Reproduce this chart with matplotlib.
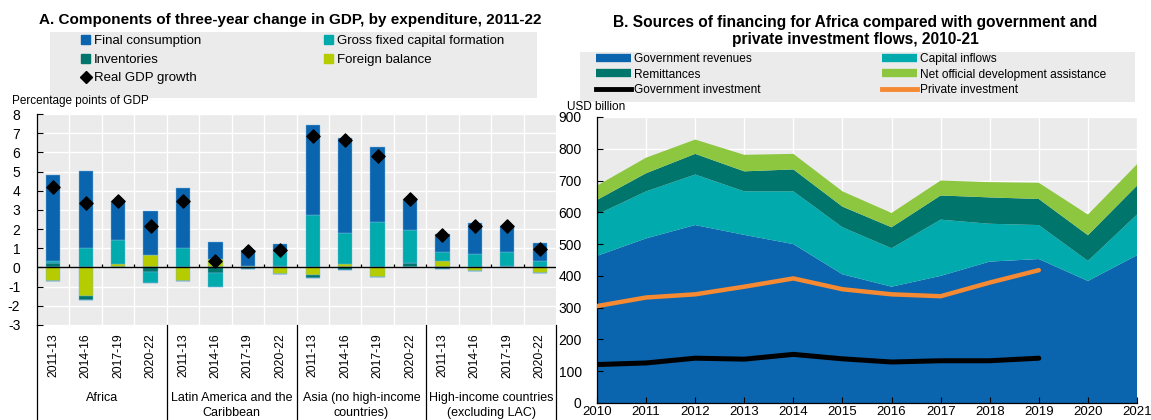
import matplotlib
matplotlib.use("Agg")
import matplotlib.pyplot as plt
import numpy as np
from matplotlib.patches import Rectangle, Patch
from matplotlib.lines import Line2D
import matplotlib.transforms as mtrans

plt.rcParams['font.family'] = ['Liberation Sans', 'DejaVu Sans']

# ---------------- Panel A data ----------------
periods = ["2011-13", "2014-16", "2017-19", "2020-22"]
regions = ["Africa", "Latin America and the\nCaribbean", "Asia (no high-income\ncountries)",
           "High-income countries\n(excluding LAC)"]
final_consumption = [4.45, 4.04, 2.03, 2.29, 3.14, 0.87, 0.79, 0.43,
                     4.67, 4.95, 3.91, 1.60, 0.94, 1.62, 1.37, 0.97]
gfcf = [0.10, 0.99, 1.26, -0.57, 0.99, -0.73, 0.00, 0.71,
        2.76, 1.62, 2.36, 1.74, 0.47, 0.69, 0.70, 0.33]
inventories = [0.25, -0.25, 0.00, -0.24, 0.00, -0.31, -0.10, 0.09,
               -0.16, -0.14, 0.00, 0.22, -0.09, 0.00, 0.10, -0.03]
foreign_balance = [-0.69, -1.47, 0.16, 0.64, -0.69, 0.45, 0.10, -0.35,
                   -0.40, 0.20, -0.49, 0.00, 0.36, -0.17, 0.00, -0.28]
real_gdp_growth = [4.17, 3.35, 3.45, 2.17, 3.47, 0.33, 0.87, 0.90,
                   6.86, 6.65, 5.82, 3.56, 1.70, 2.15, 2.15, 0.97]

# ---------------- Panel B data ----------------
years = list(range(2010, 2022))
gov_revenues = [463, 518, 560, 529, 500, 405, 366, 400, 445, 453, 384, 465]
capital_inflows = [130, 148, 159, 137, 166, 148, 121, 177, 119, 107, 63, 128]
remittances = [46, 57, 65, 63, 69, 65, 66, 76, 83, 82, 81, 91]
net_oda = [45, 49, 45, 52, 49, 48, 45, 47, 48, 51, 65, 67]
inv_years = list(range(2010, 2020))
gov_investment = [121, 126, 141, 138, 153, 139, 129, 133, 133, 141]
private_investment = [305, 332, 342, 366, 392, 358, 342, 336, 379, 418]

# colours
C_BLUE = "#0b64ae"
C_TEAL = "#00aaad"
C_DTEAL = "#00756b"
C_LIME = "#b4cc00"
C_GREEN = "#8dc63f"
C_ORANGE = "#f58a33"
BG = "#ebebeb"

W, H = 1151, 420
fig = plt.figure(figsize=(W / 100, H / 100), dpi=100)

def fx(px):
    return px / W

def fy(py):
    return 1 - py / H

# ================= Panel A =================
axA = fig.add_axes([fx(37), fy(325), fx(556 - 37), fy(114) - fy(325)])
axA.set_facecolor(BG)
n = len(final_consumption)
x = np.arange(n)
bw = 0.44

series = {
    "fc": (final_consumption, C_BLUE),
    "gfcf": (gfcf, C_TEAL),
    "inv": (inventories, C_DTEAL),
    "fb": (foreign_balance, C_LIME),
}
pos_order = ["inv", "fb", "gfcf", "fc"]
neg_order = ["fb", "inv", "gfcf", "fc"]
pos_base = np.zeros(n)
neg_base = np.zeros(n)
for key in pos_order:
    vals, col = series[key]
    v = np.array(vals)
    vp = np.where(v > 0, v, 0)
    axA.bar(x, vp, bw, bottom=pos_base, color=col, edgecolor="#7db7e0", linewidth=0.3, zorder=3)
    pos_base += vp
for key in neg_order:
    vals, col = series[key]
    v = np.array(vals)
    vn = np.where(v < 0, v, 0)
    axA.bar(x, vn, bw, bottom=neg_base, color=col, edgecolor="#7db7e0", linewidth=0.3, zorder=3)
    neg_base += vn
axA.scatter(x, real_gdp_growth, marker="D", s=45, color="black", zorder=5)

axA.set_xlim(-0.5, n - 0.5)
axA.set_ylim(-3, 8)
axA.set_yticks(range(-3, 9))
axA.set_yticklabels([str(v) for v in range(-3, 9)], fontsize=10)
axA.tick_params(axis="y", direction="in", length=4, pad=12, width=0.8)
axA.set_xticks(x)
axA.set_xticklabels(periods * 4, rotation=90, fontsize=8.8)
axA.tick_params(axis="x", length=0, pad=6)
for s in ["top", "right", "bottom"]:
    axA.spines[s].set_visible(False)
axA.spines["left"].set_linewidth(0.9)
for yv in range(-3, 9):
    axA.axhline(yv, color="white", lw=1.0, zorder=1)
for b in np.arange(0.5, n - 0.5, 1):
    axA.axvline(b, color="white", lw=1.0, zorder=1)
axA.axhline(0, color="black", lw=1.0, zorder=4)
axA.vlines(np.arange(0.5, n - 0.5, 1), 0, 0.2, color="black", lw=0.9, zorder=4)

# group separators & labels
trA = mtrans.blended_transform_factory(axA.transData, axA.transAxes)
yb = (325 - 420) / (325 - 114)
for b in [-0.5, 3.5, 7.5, 11.5, 15.5]:
    axA.plot([b, b], [0, yb], color="black", lw=0.9, transform=trA, clip_on=False)
for i, r in enumerate(regions):
    axA.text(4 * i + 1.5, (325 - 392) / 211, r, transform=trA, ha="center", va="top",
             fontsize=9, linespacing=1.3)

# title & legend
fig.text(fx(290), fy(20), "A. Components of three-year change in GDP, by expenditure, 2011-22",
         ha="center", va="center", fontsize=11, fontweight="bold")
fig.patches.append(Rectangle((fx(50), fy(98)), fx(537 - 50), fy(32) - fy(98),
                             transform=fig.transFigure, facecolor=BG, edgecolor="none", zorder=0))
hA1 = [Patch(color=C_BLUE), Patch(color=C_DTEAL),
       Line2D([], [], marker="D", color="black", ls="none", markersize=6)]
lA1 = ["Final consumption", "Inventories", "Real GDP growth"]
hA2 = [Patch(color=C_TEAL), Patch(color=C_LIME)]
lA2 = ["Gross fixed capital formation", "Foreign balance"]
kw = dict(frameon=False, fontsize=9.5, handlelength=0.7, handleheight=0.7,
          handletextpad=0.3, labelspacing=0.48, borderpad=0, borderaxespad=0)
fig.legend(hA1, lA1, loc="upper left", bbox_to_anchor=(fx(81), fy(35)), **kw)
fig.legend(hA2, lA2, loc="upper left", bbox_to_anchor=(fx(324), fy(35)), **kw)
fig.text(fx(12), fy(101), "Percentage points of GDP", ha="left", va="center", fontsize=8.5)

# ================= Panel B =================
axB = fig.add_axes([fx(597), fy(403), fx(1137 - 597), fy(117) - fy(403)])
axB.set_facecolor(BG)
axB.stackplot(years, gov_revenues, capital_inflows, remittances, net_oda,
              colors=[C_BLUE, C_TEAL, C_DTEAL, C_GREEN], zorder=2, linewidth=0)
axB.plot(inv_years, private_investment, color=C_ORANGE, lw=3.2, zorder=4, solid_capstyle="round")
axB.plot(inv_years, gov_investment, color="black", lw=3.6, zorder=4, solid_capstyle="round")
axB.set_xlim(2010, 2021)
axB.set_ylim(0, 900)
axB.set_yticks(range(0, 901, 100))
axB.set_yticklabels([str(v) for v in range(0, 901, 100)], fontsize=10)
axB.set_xticks(years)
axB.set_xticklabels([str(y) for y in years], fontsize=9.5)
axB.tick_params(axis="y", direction="in", length=4, pad=11, width=0.8)
axB.tick_params(axis="x", direction="in", length=4, pad=2, width=0.8)
for s in ["top", "right"]:
    axB.spines[s].set_visible(False)
axB.spines["left"].set_linewidth(0.9)
axB.spines["bottom"].set_linewidth(0.9)
for yv in range(100, 901, 100):
    axB.axhline(yv, color="white", lw=1.0, zorder=1)
for yr in years[1:]:
    axB.axvline(yr, color="white", lw=1.0, zorder=1)
axB.set_axisbelow(False)

fig.text(fx(855), fy(31), "B. Sources of financing for Africa compared with government and\nprivate investment flows, 2010-21",
         ha="center", va="center", fontsize=11.2, fontweight="bold", linespacing=1.15)
fig.patches.append(Rectangle((fx(580), fy(102)), fx(1135 - 580), fy(52) - fy(102),
                             transform=fig.transFigure, facecolor=BG, edgecolor="none", zorder=0))
hB1 = [Line2D([], [], color=C_BLUE, lw=6, solid_capstyle="butt"),
       Line2D([], [], color=C_DTEAL, lw=6, solid_capstyle="butt"),
       Line2D([], [], color="black", lw=3.5)]
lB1 = ["Government revenues", "Remittances", "Government investment"]
hB2 = [Line2D([], [], color=C_TEAL, lw=6, solid_capstyle="butt"),
       Line2D([], [], color=C_GREEN, lw=6, solid_capstyle="butt"),
       Line2D([], [], color=C_ORANGE, lw=3.5)]
lB2 = ["Capital inflows", "Net official development assistance", "Private investment"]
kwB = dict(frameon=False, fontsize=8.6, handlelength=2.9, handletextpad=0.3,
           labelspacing=0.3, borderpad=0, borderaxespad=0)
fig.legend(hB1, lB1, loc="upper left", bbox_to_anchor=(fx(596), fy(53)), **kwB)
fig.legend(hB2, lB2, loc="upper left", bbox_to_anchor=(fx(882), fy(53)), **kwB)
fig.text(fx(567), fy(107), "USD billion", ha="left", va="center", fontsize=8.5)

fig.savefig("out.png", dpi=100)
